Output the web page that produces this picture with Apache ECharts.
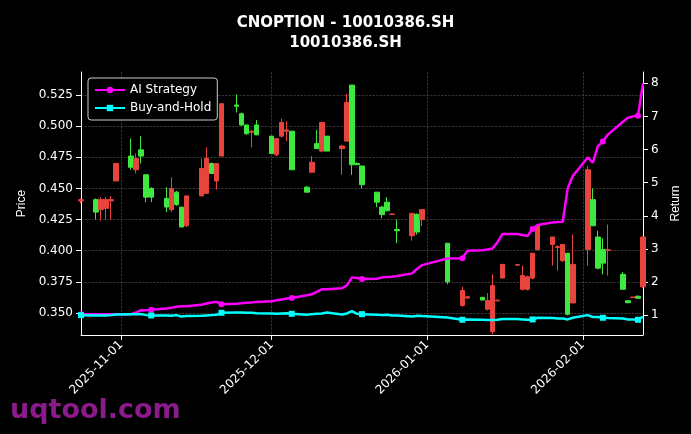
<!DOCTYPE html>
<html>
<head>
<meta charset="utf-8">
<script src="https://cdn.jsdelivr.net/npm/echarts@6/dist/echarts.min.js"></script>
<style>
  html, body { margin: 0; padding: 0; background: #000; }
  #main { width: 691px; height: 434px; }
</style>
</head>
<body>
<div id="main"></div>
<script>
// trading days with the daily candle values
var dates = ['2025-10-24','2025-10-27','2025-10-28','2025-10-29','2025-10-30','2025-10-31',
  '2025-11-03','2025-11-04','2025-11-05','2025-11-06','2025-11-07',
  '2025-11-10','2025-11-11','2025-11-12','2025-11-13','2025-11-14',
  '2025-11-17','2025-11-18','2025-11-19','2025-11-20','2025-11-21',
  '2025-11-24','2025-11-25','2025-11-26','2025-11-27','2025-11-28',
  '2025-12-01','2025-12-02','2025-12-03','2025-12-04','2025-12-05',
  '2025-12-08','2025-12-09','2025-12-10','2025-12-11','2025-12-12',
  '2025-12-15','2025-12-16','2025-12-17','2025-12-18','2025-12-19',
  '2025-12-22','2025-12-23','2025-12-24','2025-12-25','2025-12-26',
  '2025-12-29','2025-12-30','2025-12-31',
  '2026-01-05','2026-01-08','2026-01-09',
  '2026-01-12','2026-01-13','2026-01-14','2026-01-15','2026-01-16',
  '2026-01-19','2026-01-20','2026-01-21','2026-01-22','2026-01-23',
  '2026-01-26','2026-01-27','2026-01-28','2026-01-29','2026-01-30',
  '2026-02-02','2026-02-03','2026-02-04','2026-02-05','2026-02-06',
  '2026-02-09','2026-02-10','2026-02-11','2026-02-12','2026-02-13'];
var opens  = [0.441,0.431,0.441,0.441,0.441,0.470, 0.467,0.474,0.476,0.443,0.443, 0.435,0.450,0.437,0.419,0.444,
  0.466,0.474,0.462,0.470,0.518, 0.516,0.501,0.494,0.496,0.493, 0.478,0.490,0.503,0.497,0.465,
  0.447,0.471,0.482,0.503,0.480, 0.484,0.519,0.469,0.469,0.453, 0.439,0.429,0.432,0.4295,0.416,
  0.430,0.415,0.433, 0.375,0.368,0.363, 0.3604,0.360,0.372,0.3603,0.389,
  0.3888,0.380,0.379,0.398,0.420, 0.411,0.4032,0.405,0.349,0.389,
  0.465,0.420,0.386,0.390,0.4008, 0.369,0.3582,0.3628,0.3618,0.411];
var closes = [0.440,0.441,0.433,0.434,0.440,0.456, 0.476,0.465,0.481,0.461,0.450, 0.442,0.433,0.447,0.435,0.420,
  0.444,0.446,0.470,0.456,0.476, 0.517,0.510,0.501,0.495,0.501, 0.492,0.477,0.492,0.496,0.496,
  0.451,0.463,0.486,0.480,0.492, 0.482,0.488,0.533,0.470,0.468, 0.447,0.435,0.439,0.429,0.417,
  0.412,0.429,0.425, 0.406,0.356,0.362, 0.3626,0.353,0.335,0.3597,0.378,
  0.3884,0.369,0.369,0.378,0.401, 0.405,0.4025,0.392,0.398,0.358,
  0.401,0.441,0.411,0.401,0.4004, 0.381,0.3598,0.3624,0.3634,0.371];
var lows   = [0.438,0.425,0.424,0.425,0.425,0.456, 0.465,0.462,0.470,0.439,0.439, 0.431,0.431,0.436,0.419,0.419,
  0.444,0.446,0.462,0.449,0.476, 0.511,0.500,0.493,0.483,0.493, 0.478,0.476,0.491,0.488,0.465,
  0.447,0.463,0.482,0.479,0.480, 0.461,0.488,0.461,0.469,0.450, 0.435,0.426,0.432,0.4288,0.406,
  0.408,0.413,0.420, 0.373,0.355,0.3615, 0.3602,0.352,0.333,0.3595,0.378,
  0.3882,0.368,0.368,0.377,0.400, 0.388,0.384,0.391,0.348,0.358,
  0.388,0.420,0.385,0.381,0.380, 0.369,0.3578,0.3622,0.3616,0.370];
var highs  = [0.442,0.442,0.443,0.443,0.444,0.470, 0.490,0.478,0.492,0.461,0.451, 0.451,0.459,0.448,0.435,0.444,
  0.474,0.483,0.471,0.470,0.518, 0.5255,0.511,0.501,0.497,0.505, 0.492,0.490,0.506,0.504,0.496,
  0.452,0.476,0.497,0.503,0.492, 0.485,0.526,0.533,0.471,0.468, 0.447,0.436,0.443,0.4297,0.425,
  0.430,0.430,0.433, 0.406,0.371,0.3632, 0.3628,0.366,0.381,0.3605,0.389,
  0.389,0.388,0.380,0.398,0.420, 0.411,0.4045,0.405,0.398,0.413,
  0.468,0.450,0.416,0.410,0.421, 0.383,0.360,0.3630,0.3640,0.411];
// returns on the right axis
var aiReturn = [1.03,1.03,1.03,1.03,1.03,1.03, 1.03,1.08,1.15,1.15,1.16, 1.20,1.22,1.25,1.27,1.27,
  1.31,1.35,1.38,1.40,1.33, 1.34,1.36,1.37,1.38,1.40, 1.42,1.45,1.47,1.50,1.52,
  1.60,1.63,1.70,1.78,1.78, 1.81,1.90,2.14,2.12,2.09, 2.10,2.14,2.15,2.16,2.18,
  2.26,2.40,2.51, 2.71,2.72,2.94, 2.96,2.98,3.01,3.20,3.45,
  3.45,3.42,3.39,3.60,3.72, 3.80,3.81,3.82,4.83,5.20,
  5.76,5.60,6.10,6.24,6.45, 6.84,6.96,7.00,7.02,8.00];
var bhReturn = [1.00,0.99,0.99,0.99,1.00,1.02, 1.03,1.03,1.03,1.00,0.99, 0.99,0.98,1.00,0.96,0.97,
  0.98,0.99,1.00,1.01,1.07, 1.08,1.08,1.07,1.07,1.06, 1.05,1.04,1.05,1.06,1.04,
  1.01,1.03,1.04,1.05,1.08, 1.02,1.05,1.12,1.04,1.03, 1.01,1.00,1.01,0.99,0.99,
  0.96,0.98,0.97, 0.93,0.86,0.87, 0.86,0.85,0.85,0.86,0.88,
  0.88,0.87,0.86,0.87,0.92, 0.91,0.90,0.90,0.87,0.92,
  1.00,0.94,0.94,0.92,0.91, 0.90,0.87,0.87,0.86,0.95];
var priceTicks = [0.350,0.375,0.400,0.425,0.450,0.475,0.500,0.525];
var returnTicks = [1,2,3,4,5,6,7,8];

var candles = [], aiLine = [], bhLine = [];
for (var i = 0; i < dates.length; i++) {
    candles.push([dates[i], opens[i], closes[i], lows[i], highs[i]]);
    aiLine.push([dates[i], aiReturn[i]]);
    bhLine.push([dates[i], bhReturn[i]]);
}
var DAY = 86400000;
var dash = { color: '#555', type: 'dashed', width: 0.6 };
var markEvery = function(v, p) { return p.dataIndex % 10 === 0 || p.dataIndex === dates.length - 2 ? 6 : 0; };

var chart = echarts.init(document.getElementById('main'));
chart.setOption({
    backgroundColor: '#000',
    animation: false,
    title: {
        text: 'CNOPTION - 10010386.SH\n10010386.SH',
        left: 'center', top: 8,
        textStyle: { color: '#fff', fontSize: 15, fontWeight: 'bold', lineHeight: 20, fontFamily: 'DejaVu Sans' }
    },
    graphic: [{
        type: 'text', left: 10, bottom: 10,
        style: { text: 'uqtool.com', fill: '#8b1a8b', font: 'bold 27px "DejaVu Sans"' }
    }],
    legend: {
        left: 88, top: 78, orient: 'vertical', itemGap: 6,
        backgroundColor: '#000', borderColor: '#ccc', borderWidth: 1, borderRadius: 3, padding: [6, 6],
        textStyle: { color: '#fff', fontSize: 12, fontFamily: 'DejaVu Sans' },
        itemWidth: 30, itemHeight: 8,
        data: ['AI Strategy', 'Buy-and-Hold']
    },
    grid: { left: 81, right: 48, top: 72, bottom: 99 },
    xAxis: {
        type: 'time', min: '2025-10-24', max: '2026-02-13',
        minInterval: 28 * DAY, maxInterval: 31 * DAY,
        axisLine: { lineStyle: { color: '#fff' } },
        axisTick: { lineStyle: { color: '#fff' } },
        axisLabel: {
            rotate: 45, color: '#fff', fontSize: 12, fontFamily: 'DejaVu Sans', hideOverlap: false,
            formatter: function(v) { return echarts.time.format(v, '{yyyy}-{MM}-{dd}', false); }
        },
        splitLine: { show: true, lineStyle: dash }
    },
    yAxis: [{
        type: 'value', min: 0.3323, max: 0.5435, name: 'Price', nameLocation: 'middle', nameGap: 48,
        nameTextStyle: { color: '#fff', fontSize: 12 },
        axisLine: { show: true, lineStyle: { color: '#fff' } },
        axisTick: { show: true, customValues: priceTicks },
        axisLabel: { customValues: priceTicks, color: '#fff', fontSize: 12, fontFamily: 'DejaVu Sans',
            formatter: function(v) { return v.toFixed(3); } },
        splitLine: { show: true, lineStyle: dash }
    }, {
        type: 'value', min: 0.4, max: 8.34, name: 'Return', nameLocation: 'middle', nameGap: 24,
        nameTextStyle: { color: '#fff', fontSize: 12 },
        axisLine: { show: true, lineStyle: { color: '#fff' } },
        axisTick: { show: true, customValues: returnTicks },
        axisLabel: { customValues: returnTicks, color: '#fff', fontSize: 12, fontFamily: 'DejaVu Sans' },
        splitLine: { show: false }
    }],
    series: [{
        type: 'candlestick', name: 'Price', data: candles, barWidth: 5,
        itemStyle: { color: '#3ee83e', color0: '#e8443e', borderColor: '#3ee83e', borderColor0: '#e8443e', borderWidth: 1 }
    }, {
        type: 'line', name: 'AI Strategy', yAxisIndex: 1, data: aiLine,
        symbol: 'circle', symbolSize: markEvery,
        lineStyle: { color: '#ff00ff', width: 2.5 }, itemStyle: { color: '#ff00ff' }
    }, {
        type: 'line', name: 'Buy-and-Hold', yAxisIndex: 1, data: bhLine,
        symbol: 'rect', symbolSize: markEvery,
        lineStyle: { color: '#00ffff', width: 2.5 }, itemStyle: { color: '#00ffff' }
    }]
});
</script>
</body>
</html>
